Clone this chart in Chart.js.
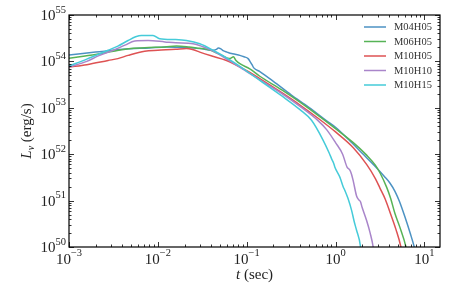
<!DOCTYPE html>
<html>
<head>
<meta charset="utf-8">
<script src="https://cdn.jsdelivr.net/npm/chart.js@4/dist/chart.umd.min.js"></script>
<style>
  html, body { margin: 0; padding: 0; background: #fff; }
  canvas { display: block; }
</style>
</head>
<body>
<canvas id="chart" width="463" height="290"></canvas>
<script>
// values are log10(t / sec) and log10(L / erg s^-1)
const seriesNames = ["M04H05", "M06H05", "M10H05", "M10H10", "M10H15"];
const seriesColors = ["#4c92c3", "#56b356", "#de5253", "#a985ca", "#45cbd9"];

const logT_M04H05 = [-3.0, -2.7, -2.4, -2.1, -1.9, -1.7, -1.5, -1.4, -1.34, -1.32, -1.29, -1.265, -1.22, -1.171, -1.12, -1.077, -1.03, -0.984, -0.96, -0.94, -0.92, -0.852, -0.7, -0.5, -0.3, -0.1, 0.0, 0.15, 0.3, 0.45, 0.55, 0.612, 0.669, 0.72, 0.781, 0.84, 0.886, 0.93];
const logL_M04H05 = [54.14, 54.20, 54.26, 54.29, 54.31, 54.30, 54.27, 54.24, 54.26, 54.29, 54.27, 54.23, 54.20, 54.17, 54.15, 54.13, 54.10, 54.06, 53.99, 53.93, 53.86, 53.78, 53.57, 53.28, 53.01, 52.72, 52.58, 52.31, 52.02, 51.73, 51.52, 51.38, 51.20, 50.98, 50.65, 50.30, 50.0, 49.6];

const logT_M06H05 = [-3.0, -2.7, -2.5, -2.3, -2.1, -1.92, -1.79, -1.65, -1.565, -1.45, -1.378, -1.28, -1.19, -1.17, -1.15, -1.12, -1.077, -0.965, -0.852, -0.6, -0.4, -0.2, 0.0, 0.2, 0.35, 0.45, 0.5, 0.575, 0.62, 0.669, 0.72, 0.793, 0.83];
const logL_M06H05 = [54.07, 54.15, 54.22, 54.28, 54.30, 54.31, 54.33, 54.31, 54.29, 54.26, 54.22, 54.13, 54.06, 54.08, 54.10, 54.02, 53.95, 53.84, 53.68, 53.38, 53.12, 52.84, 52.55, 52.25, 51.98, 51.76, 51.60, 51.29, 51.05, 50.72, 50.45, 50.0, 49.6];

const logT_M10H05 = [-3.0, -2.8, -2.56, -2.45, -2.335, -2.148, -2.0, -1.8, -1.678, -1.6, -1.528, -1.4, -1.227, -1.0, -0.852, -0.6, -0.4, -0.2, 0.0, 0.2, 0.35, 0.45, 0.5, 0.56, 0.613, 0.68, 0.736, 0.77];
const logL_M10H05 = [53.88, 53.93, 54.02, 54.06, 54.13, 54.22, 54.24, 54.26, 54.28, 54.25, 54.20, 54.12, 54.02, 53.80, 53.63, 53.32, 53.06, 52.78, 52.48, 52.14, 51.78, 51.47, 51.27, 51.03, 50.75, 50.38, 50.0, 49.6];

const logT_M10H10 = [-3.0, -2.8, -2.67, -2.5, -2.37, -2.26, -2.11, -1.92, -1.8, -1.603, -1.5, -1.378, -1.2, -1.0, -0.852, -0.6, -0.4, -0.2, -0.1, 0.0, 0.08, 0.13, 0.16, 0.18, 0.2, 0.237, 0.26, 0.28, 0.3, 0.35, 0.39, 0.424, 0.45];
const logL_M10H10 = [53.88, 54.0, 54.12, 54.24, 54.35, 54.44, 54.45, 54.42, 54.40, 54.38, 54.32, 54.22, 54.02, 53.78, 53.60, 53.30, 53.03, 52.73, 52.53, 52.25, 52.0, 51.72, 51.66, 51.57, 51.42, 51.10, 51.02, 50.98, 50.85, 50.57, 50.30, 50.0, 49.6];

const logT_M10H15 = [-3.0, -2.8, -2.56, -2.45, -2.335, -2.25, -2.185, -2.054, -1.979, -1.8, -1.678, -1.528, -1.378, -1.153, -0.852, -0.6, -0.4, -0.27, -0.139, -0.07, -0.044, -0.02, -0.007, 0.05, 0.086, 0.105, 0.14, 0.181, 0.21, 0.237, 0.282, 0.3];
const logL_M10H15 = [53.90, 54.05, 54.24, 54.33, 54.45, 54.53, 54.56, 54.56, 54.49, 54.47, 54.45, 54.38, 54.24, 53.99, 53.59, 53.25, 52.96, 52.73, 52.30, 52.02, 51.90, 51.80, 51.72, 51.50, 51.30, 51.22, 51.05, 50.79, 50.55, 50.36, 50.0, 49.6];

const xTickExps = [-3, -2, -1, 0, 1];
const xTickLabels = ["\u22123", "\u22122", "\u22121", "0", "1"];
const yTickExps = [50, 51, 52, 53, 54, 55];
const yTickLabels = ["50", "51", "52", "53", "54", "55"];

const X_MIN = 1e-3;
const X_MAX = 15;
const Y_MIN = 1e50;
const Y_MAX = 1e55;

const SERIF = '"Liberation Serif", "DejaVu Serif", serif';

const logTs = [logT_M04H05, logT_M06H05, logT_M10H05, logT_M10H10, logT_M10H15];
const logLs = [logL_M04H05, logL_M06H05, logL_M10H05, logL_M10H10, logL_M10H15];

function toPoints(logT, logL) {
  return logT.map((t, i) => ({ x: 10 ** t, y: 10 ** logL[i] }));
}

function drawPower(ctx, exp, x, baseY, align) {
  ctx.font = `15px ${SERIF}`;
  const w1 = ctx.measureText("10").width;
  ctx.font = `10.5px ${SERIF}`;
  const w2 = ctx.measureText(exp).width;
  const x0 = align === "center" ? x - (w1 + w2) / 2 : x - (w1 + w2);
  ctx.font = `15px ${SERIF}`;
  ctx.fillText("10", x0, baseY);
  ctx.font = `10.5px ${SERIF}`;
  ctx.fillText(exp, x0 + w1, baseY - 7.5);
}

const axesPlugin = {
  id: "axesPlugin",
  afterDraw(chart) {
    const ctx = chart.ctx;
    const { left, right, top, bottom } = chart.chartArea;
    const xs = chart.scales.x;
    const ys = chart.scales.y;

    ctx.save();
    ctx.strokeStyle = "#000";
    ctx.lineWidth = 1.2;
    ctx.strokeRect(left, top, right - left, bottom - top);

    // inward ticks on all four sides
    ctx.lineWidth = 0.8;
    ctx.beginPath();
    for (let k = -3; k <= 1; k++) {
      for (let d = 1; d <= 9; d++) {
        const v = d * 10 ** k;
        if (v < X_MIN || v > X_MAX) continue;
        const px = Math.round(xs.getPixelForValue(v)) + 0.5;
        const len = d === 1 ? 5 : 2.5;
        ctx.moveTo(px, bottom);
        ctx.lineTo(px, bottom - len);
        ctx.moveTo(px, top);
        ctx.lineTo(px, top + len);
      }
    }
    for (let k = 50; k <= 55; k++) {
      for (let d = 1; d <= 9; d++) {
        const v = d * 10 ** k;
        if (v < Y_MIN || v > Y_MAX) continue;
        const py = Math.round(ys.getPixelForValue(v)) + 0.5;
        const len = d === 1 ? 5 : 2.5;
        ctx.moveTo(left, py);
        ctx.lineTo(left + len, py);
        ctx.moveTo(right, py);
        ctx.lineTo(right - len, py);
      }
    }
    ctx.stroke();

    ctx.fillStyle = "#222";
    ctx.textBaseline = "alphabetic";
    ctx.textAlign = "left";
    xTickExps.forEach((e, i) => {
      drawPower(ctx, xTickLabels[i], xs.getPixelForValue(10 ** e), bottom + 16.5, "center");
    });
    yTickExps.forEach((e, i) => {
      drawPower(ctx, yTickLabels[i], left - 3, ys.getPixelForValue(10 ** e) + 5, "right");
    });

    // x axis title: t (sec)
    ctx.font = `italic 15px ${SERIF}`;
    const wt = ctx.measureText("t").width;
    ctx.font = `15px ${SERIF}`;
    const ws = ctx.measureText(" (sec)").width;
    const cx = (left + right) / 2 - (wt + ws) / 2;
    ctx.font = `italic 15px ${SERIF}`;
    ctx.fillText("t", cx, 279);
    ctx.font = `15px ${SERIF}`;
    ctx.fillText(" (sec)", cx + wt, 279);

    // y axis title: L_nu (erg/s)
    ctx.translate(31, (top + bottom) / 2);
    ctx.rotate(-Math.PI / 2);
    ctx.font = `italic 15px ${SERIF}`;
    const wL = ctx.measureText("L").width;
    ctx.font = `italic 10px ${SERIF}`;
    const wn = ctx.measureText("\u03bd").width;
    ctx.font = `15px ${SERIF}`;
    const we = ctx.measureText(" (erg/s)").width;
    const ty = -(wL + wn + we) / 2;
    ctx.font = `italic 15px ${SERIF}`;
    ctx.fillText("L", ty, 0);
    ctx.font = `italic 10px ${SERIF}`;
    ctx.fillText("\u03bd", ty + wL, 3);
    ctx.font = `15px ${SERIF}`;
    ctx.fillText(" (erg/s)", ty + wL + wn, 0);
    ctx.restore();
  },
};

const legendPlugin = {
  id: "legendPlugin",
  afterDraw(chart) {
    const ctx = chart.ctx;
    ctx.save();
    ctx.font = `10.5px ${SERIF}`;
    ctx.textBaseline = "middle";
    ctx.fillStyle = "#333";
    seriesNames.forEach((name, i) => {
      const y = 27 + i * 14.5;
      ctx.strokeStyle = seriesColors[i];
      ctx.lineWidth = 1.5;
      ctx.beginPath();
      ctx.moveTo(364, y);
      ctx.lineTo(386, y);
      ctx.stroke();
      ctx.fillText(name, 394, y + 0.5);
    });
    ctx.restore();
  },
};

new Chart(document.getElementById("chart"), {
  type: "line",
  data: {
    datasets: seriesNames.map((name, i) => ({
      label: name,
      data: toPoints(logTs[i], logLs[i]),
      borderColor: seriesColors[i],
      borderWidth: 1.5,
      pointRadius: 0,
      cubicInterpolationMode: "monotone",
      fill: false,
      order: seriesNames.length - i,
    })),
  },
  options: {
    responsive: false,
    animation: false,
    devicePixelRatio: 1,
    layout: { padding: { left: 69, right: 23, top: 15, bottom: 43 } },
    plugins: {
      legend: { display: false },
      tooltip: { enabled: false },
    },
    scales: {
      x: { type: "logarithmic", min: X_MIN, max: X_MAX, display: false },
      y: { type: "logarithmic", min: Y_MIN, max: Y_MAX, display: false },
    },
  },
  plugins: [axesPlugin, legendPlugin],
});
</script>
</body>
</html>
